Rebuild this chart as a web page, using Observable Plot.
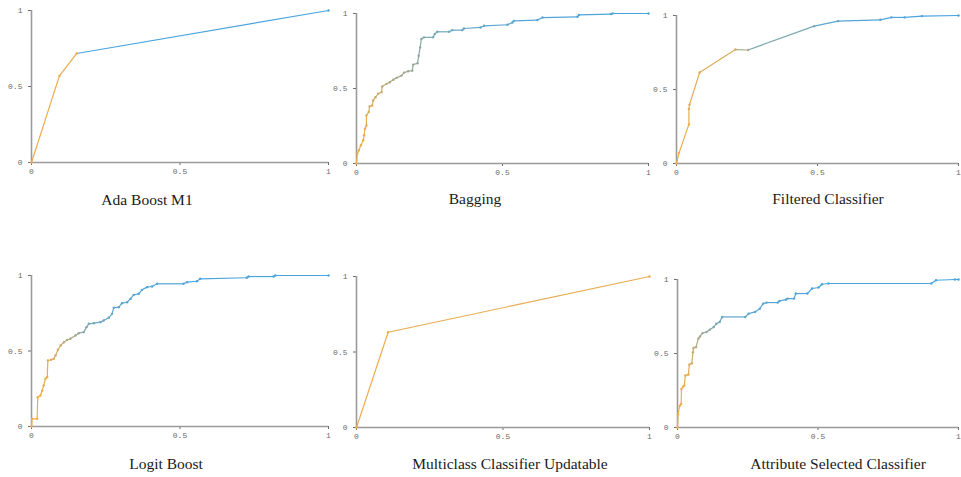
<!DOCTYPE html>
<html>
<head>
<meta charset="utf-8">
<script src="https://cdn.jsdelivr.net/npm/d3@7"></script>
<script src="https://cdn.jsdelivr.net/npm/@observablehq/plot@0.6"></script>
<style>
  html, body { margin: 0; padding: 0; background: #fff; overflow: hidden; }
  #wrap { position: relative; width: 961px; height: 477px; overflow: hidden; }
  .panel { position: absolute; }
  .title { position: absolute; transform: translateX(-50%); white-space: nowrap;
           font-family: "Liberation Serif", "Times New Roman", serif; font-size: 15.5px;
           line-height: 16px; color: #1a1a1a; }
</style>
</head>
<body>
<div id="wrap"></div>
<script>
// ---- data: ROC curves, points are [false positive rate, true positive rate, threshold]
const titles = ["Ada Boost M1", "Bagging", "Filtered Classifier",
                "Logit Boost", "Multiclass Classifier Updatable", "Attribute Selected Classifier"];
const xTicks = [0, 0.5, 1];
const yTicks = [0, 0.5, 1];

const adaBoostM1 = [[0,0,1],[0.094,0.57,0.95],[0.152,0.717,0.92],[1,1,0]];

const bagging = [[0,0,1],[0.003,0.066,0.98],[0.008,0.088,0.97],[0.015,0.122,0.96],[0.023,0.155,0.95],
  [0.026,0.188,0.94],[0.029,0.232,0.93],[0.034,0.254,0.92],[0.034,0.321,0.9],[0.042,0.343,0.88],
  [0.045,0.381,0.86],[0.054,0.387,0.84],[0.057,0.42,0.82],[0.065,0.442,0.8],[0.074,0.465,0.77],
  [0.086,0.476,0.74],[0.088,0.513,0.7],[0.103,0.531,0.66],[0.114,0.542,0.62],[0.126,0.558,0.58],
  [0.137,0.571,0.55],[0.154,0.586,0.52],[0.163,0.606,0.5],[0.177,0.615,0.48],[0.191,0.619,0.46],
  [0.194,0.659,0.44],[0.209,0.668,0.42],[0.213,0.719,0.4],[0.218,0.774,0.38],[0.222,0.83,0.36],
  [0.231,0.841,0.33],[0.262,0.841,0.3],[0.268,0.863,0.27],[0.277,0.878,0.24],[0.317,0.878,0.22],
  [0.328,0.889,0.2],[0.362,0.889,0.18],[0.368,0.9,0.16],[0.425,0.907,0.14],[0.437,0.918,0.12],
  [0.517,0.925,0.1],[0.534,0.94,0.09],[0.539,0.951,0.08],[0.619,0.956,0.07],[0.637,0.973,0.06],
  [0.757,0.978,0.05],[0.762,0.991,0.04],[0.871,0.996,0.03],[0.877,1,0.02],[1,1,0]];

const filteredClassifier = [[0,0,1],[0.009,0.072,0.98],[0.044,0.264,0.96],[0.044,0.369,0.94],
  [0.046,0.398,0.93],[0.082,0.615,0.9],[0.209,0.77,0.85],[0.254,0.767,0.55],[0.488,0.928,0.3],
  [0.573,0.962,0.1],[0.723,0.971,0.06],[0.762,0.987,0.04],[0.809,0.987,0.03],[0.87,0.996,0.02],[1,1,0]];

const logitBoost = [[0,0,1],[0.002,0.051,0.99],[0.019,0.051,0.98],[0.021,0.194,0.97],[0.03,0.205,0.96],
  [0.036,0.238,0.95],[0.041,0.272,0.94],[0.047,0.316,0.93],[0.053,0.327,0.92],[0.055,0.437,0.9],
  [0.066,0.442,0.88],[0.075,0.448,0.86],[0.081,0.47,0.83],[0.089,0.508,0.8],[0.098,0.536,0.76],
  [0.109,0.558,0.7],[0.12,0.574,0.64],[0.131,0.581,0.58],[0.148,0.603,0.52],[0.159,0.618,0.46],
  [0.176,0.625,0.4],[0.185,0.658,0.34],[0.193,0.68,0.28],[0.21,0.684,0.24],[0.232,0.691,0.2],
  [0.243,0.702,0.17],[0.26,0.72,0.15],[0.271,0.746,0.13],[0.277,0.786,0.12],[0.294,0.79,0.11],
  [0.305,0.817,0.1],[0.322,0.823,0.09],[0.333,0.845,0.08],[0.344,0.872,0.07],[0.361,0.879,0.06],
  [0.372,0.905,0.05],[0.389,0.923,0.05],[0.406,0.927,0.04],[0.423,0.945,0.04],[0.512,0.945,0.03],
  [0.524,0.956,0.03],[0.557,0.962,0.02],[0.568,0.978,0.02],[0.725,0.985,0.01],[0.731,0.993,0.01],
  [0.815,0.993,0.01],[0.821,1,0],[1,1,0]];

const multiclassUpdatable = [[0,0,1],[0.108,0.631,0.97],[1,1,0.93]];

const attributeSelected = [[0,0,1],[0.002,0.09,0.98],[0.008,0.147,0.97],[0.013,0.158,0.96],
  [0.014,0.26,0.95],[0.02,0.276,0.94],[0.024,0.283,0.93],[0.028,0.351,0.91],[0.039,0.357,0.89],
  [0.042,0.425,0.86],[0.051,0.434,0.8],[0.055,0.509,0.74],[0.057,0.538,0.7],[0.066,0.543,0.64],
  [0.074,0.6,0.58],[0.08,0.615,0.54],[0.089,0.638,0.5],[0.103,0.645,0.45],[0.115,0.661,0.4],
  [0.129,0.679,0.34],[0.138,0.701,0.28],[0.15,0.713,0.22],[0.159,0.747,0.17],[0.241,0.747,0.14],
  [0.253,0.769,0.12],[0.276,0.781,0.11],[0.293,0.803,0.1],[0.305,0.837,0.09],[0.317,0.844,0.08],
  [0.357,0.844,0.07],[0.363,0.855,0.06],[0.386,0.864,0.06],[0.392,0.871,0.05],[0.415,0.871,0.05],
  [0.421,0.905,0.04],[0.462,0.905,0.04],[0.479,0.939,0.03],[0.502,0.946,0.03],[0.514,0.968,0.02],
  [0.537,0.973,0.02],[0.903,0.973,0.01],[0.92,0.995,0.01],[0.987,1,0],[1,1,0]];

const curves = [adaBoostM1, bagging, filteredClassifier, logitBoost, multiclassUpdatable, attributeSelected];

// ---- layout (pixel positions of each small chart)
const layout = [
  {left: 0,   top: 0,   width: 340, height: 185, ml: 31, mr: 12, mt: 10, mb: 23, tx: 147, ty: 192},
  {left: 330, top: 0,   width: 325, height: 185, ml: 26, mr: 7,  mt: 13, mb: 22, tx: 475, ty: 191},
  {left: 650, top: 0,   width: 320, height: 185, ml: 26, mr: 12, mt: 15, mb: 22, tx: 828, ty: 191},
  {left: 0,   top: 260, width: 340, height: 185, ml: 31, mr: 12, mt: 15, mb: 19, tx: 166, ty: 456},
  {left: 330, top: 260, width: 325, height: 185, ml: 26, mr: 6,  mt: 16, mb: 18, tx: 510, ty: 456},
  {left: 650, top: 260, width: 320, height: 185, ml: 27, mr: 12, mt: 19, mb: 18, tx: 838, ty: 456}
];

const wrap = document.getElementById("wrap");

curves.forEach((pts, k) => {
  const L = layout[k];
  const segs = pts.slice(1).map((p, i) => ({x1: pts[i][0], y1: pts[i][1], x2: p[0], y2: p[1], t: p[2]}));
  const chart = Plot.plot({
    width: L.width, height: L.height,
    marginLeft: L.ml, marginRight: L.mr, marginTop: L.mt, marginBottom: L.mb,
    style: {background: "transparent", fontFamily: "Liberation Mono, DejaVu Sans Mono, monospace",
            fontSize: "8px", color: "#6a6a6a", overflow: "visible"},
    x: {domain: [0, 1], ticks: xTicks, tickFormat: d => String(d), tickSize: 3, tickPadding: 3, label: null},
    y: {domain: [0, 1], ticks: yTicks, tickFormat: d => String(d), tickSize: 3, tickPadding: 6, label: null},
    color: {type: "linear", domain: [0, 1], range: ["#4aa5df", "#f4ad45"], interpolate: "rgb"},
    marks: [
      Plot.ruleX([0], {stroke: "#9a9a9a", strokeWidth: 1.6}),
      Plot.ruleY([0], {stroke: "#9a9a9a", strokeWidth: 1.6}),
      Plot.link(segs, {x1: "x1", y1: "y1", x2: "x2", y2: "y2", stroke: "t", strokeWidth: 1.2}),
      Plot.dot(pts, {x: d => d[0], y: d => d[1], fill: d => d[2], r: 1.2})
    ]
  });
  chart.classList.add("panel");
  chart.style.left = L.left + "px";
  chart.style.top = L.top + "px";
  chart.style.maxWidth = "none";
  wrap.appendChild(chart);

  const t = document.createElement("div");
  t.className = "title";
  t.textContent = titles[k];
  t.style.left = L.tx + "px";
  t.style.top = L.ty + "px";
  wrap.appendChild(t);
});
</script>
</body>
</html>
